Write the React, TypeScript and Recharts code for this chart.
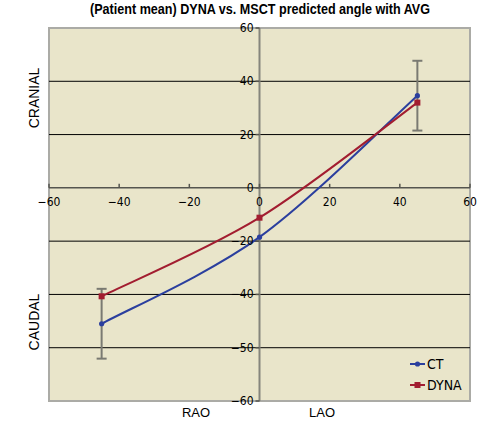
import React from "react";
import {
  LineChart,
  Line,
  XAxis,
  YAxis,
  ReferenceArea,
  ReferenceLine,
  ReferenceDot,
  ErrorBar,
} from "recharts";

// ---- data ----
const angles = [-45, 0, 45];
const ctValues = [-51.0, -18.5, 34.6];
const dynaValues = [-40.7, -11.2, 32.0];
const ctErrors = [13.1, 0, 13.1];

const xTicks = [-60, -40, -20, 0, 20, 40, 60];
const yTicks = [60, 40, 20, 0, -20, -40, -60, -80];
const yTickLabels = ["60", "40", "20", "0", "−20", "−40", "−50", "−60"];
const gridValues = [40, 20, -20, -40, -60];

const seriesNames = ["CT", "DYNA"];
const title = "(Patient mean) DYNA vs. MSCT predicted angle with AVG";

const data = angles.map((x, i) => ({
  x,
  ct: ctValues[i],
  dyna: dynaValues[i],
  ctErr: ctErrors[i],
}));

const CT_COLOR = "#2B3F9E";
const DYNA_COLOR = "#A21D30";
const NARROW = "'Liberation Sans Narrow', 'Arial Narrow', 'DejaVu Sans Condensed', 'Liberation Sans', Arial, sans-serif";
const SANS = "'Liberation Sans', Arial, sans-serif";

const fmt = (v: number) => (v < 0 ? "−" + Math.abs(v) : String(v));

// Excel-like smoothed line (Catmull-Rom through the points)
const smoothCurve = (context: any) => {
  let pts: [number, number][] = [];
  return {
    areaStart() {},
    areaEnd() {},
    lineStart() {
      pts = [];
    },
    lineEnd() {
      const n = pts.length;
      if (!n) return;
      context.moveTo(pts[0][0], pts[0][1]);
      for (let i = 0; i < n - 1; i++) {
        const p0 = pts[Math.max(i - 1, 0)];
        const p1 = pts[i];
        const p2 = pts[i + 1];
        const p3 = pts[Math.min(i + 2, n - 1)];
        context.bezierCurveTo(
          p1[0] + (p2[0] - p0[0]) / 6,
          p1[1] + (p2[1] - p0[1]) / 6,
          p2[0] - (p3[0] - p1[0]) / 6,
          p2[1] - (p3[1] - p1[1]) / 6,
          p2[0],
          p2[1]
        );
      }
    },
    point(x: number, y: number) {
      pts.push([+x, +y]);
    },
  };
};

const SquareDot = (props: any) => {
  const { cx, cy } = props;
  if (cx == null || cy == null) return null;
  return <rect x={cx - 3} y={cy - 3} width={6} height={6} fill={DYNA_COLOR} />;
};

const CircleDot = (props: any) => {
  const { cx, cy } = props;
  if (cx == null || cy == null) return null;
  return <circle cx={cx} cy={cy} r={2.6} fill={CT_COLOR} />;
};

export default function App() {
  return (
    <div
      style={{
        position: "absolute",
        left: 0,
        top: 0,
        width: 502,
        height: 421,
        background: "#fff",
      }}
    >
      <LineChart
        width={502}
        height={421}
        data={data}
        margin={{ top: 28, right: 32, bottom: 20, left: 49 }}
      >
        <XAxis type="number" dataKey="x" domain={[-60, 60]} ticks={xTicks} hide />
        <YAxis type="number" domain={[-80, 60]} ticks={yTicks} hide />
        <ReferenceArea
          x1={-60}
          x2={60}
          y1={-80}
          y2={60}
          fill="#E9E5CA"
          fillOpacity={1}
          stroke="#ABABA6"
          strokeWidth={2}
        />
        {gridValues.map((v) => (
          <ReferenceLine key={"g" + v} y={v} stroke="#000" strokeWidth={1} />
        ))}
        <ReferenceLine x={0} stroke="#85857C" strokeWidth={2} />
        <ReferenceLine y={0} stroke="#55554F" strokeWidth={1.5} />
        {xTicks.map((t) => (
          <ReferenceDot
            key={"xt" + t}
            x={t}
            y={0}
            r={0}
            shape={(p: any) => (
              <g>
                <line x1={p.cx} x2={p.cx} y1={p.cy} y2={p.cy - 4} stroke="#55554F" strokeWidth={1.5} />
                <text
                  x={p.cx}
                  y={p.cy + 18}
                  textAnchor="middle"
                  fontFamily={NARROW}
                  fontSize={12}
                  fill="#000"
                >
                  {fmt(t)}
                </text>
              </g>
            )}
          />
        ))}
        {yTicks.map((t, i) => (
          <ReferenceDot
            key={"yt" + t}
            x={0}
            y={t}
            r={0}
            shape={(p: any) => (
              <g>
                <line x1={p.cx - 4} x2={p.cx} y1={p.cy} y2={p.cy} stroke="#55554F" strokeWidth={1.5} />
                <text
                  x={p.cx - 6}
                  y={p.cy + 4}
                  textAnchor="end"
                  fontFamily={NARROW}
                  fontSize={12}
                  fill="#000"
                >
                  {yTickLabels[i]}
                </text>
              </g>
            )}
          />
        ))}
        <Line
          type={smoothCurve as any}
          dataKey="ct"
          name={seriesNames[0]}
          stroke={CT_COLOR}
          strokeWidth={2}
          dot={<CircleDot />}
          isAnimationActive={false}
        >
          <ErrorBar
            dataKey="ctErr"
            direction="y"
            width={5}
            stroke="#7A7A72"
            strokeWidth={2}
            isAnimationActive={false}
          />
        </Line>
        <Line
          type={smoothCurve as any}
          dataKey="dyna"
          name={seriesNames[1]}
          stroke={DYNA_COLOR}
          strokeWidth={2}
          dot={<SquareDot />}
          isAnimationActive={false}
        />
      </LineChart>
      <svg
        width={502}
        height={421}
        style={{ position: "absolute", left: 0, top: 0, pointerEvents: "none" }}
      >
        <text
          x={260}
          y={14}
          textAnchor="middle"
          fontFamily={SANS}
          fontWeight="bold"
          fontSize={14}
          textLength={340}
          lengthAdjust="spacingAndGlyphs"
          fill="#000"
        >
          {title}
        </text>
        <text
          transform="translate(39,98) rotate(-90)"
          textAnchor="middle"
          fontFamily={SANS}
          fontSize={14}
          fill="#000"
        >
          CRANIAL
        </text>
        <text
          transform="translate(39,322) rotate(-90)"
          textAnchor="middle"
          fontFamily={SANS}
          fontSize={14}
          fill="#000"
        >
          CAUDAL
        </text>
        <text x={196} y={417} textAnchor="middle" fontFamily={SANS} fontSize={13} fill="#000">
          RAO
        </text>
        <text x={322} y={417} textAnchor="middle" fontFamily={SANS} fontSize={13} fill="#000">
          LAO
        </text>
      </svg>
      <div style={{ position: "absolute", left: 409, top: 353 }}>
        {seriesNames.map((name, i) => (
          <div
            key={name}
            style={{ display: "flex", alignItems: "center", height: 21 }}
          >
            <svg width={17} height={10}>
              <line
                x1={1}
                x2={16}
                y1={5}
                y2={5}
                stroke={i === 0 ? CT_COLOR : DYNA_COLOR}
                strokeWidth={2}
              />
              {i === 0 ? (
                <circle cx={8.5} cy={5} r={2.6} fill={CT_COLOR} />
              ) : (
                <rect x={5.5} y={2} width={6} height={6} fill={DYNA_COLOR} />
              )}
            </svg>
            <span style={{ fontFamily: NARROW, fontSize: 14, color: "#000", marginLeft: 1 }}>
              {name}
            </span>
          </div>
        ))}
      </div>
    </div>
  );
}
